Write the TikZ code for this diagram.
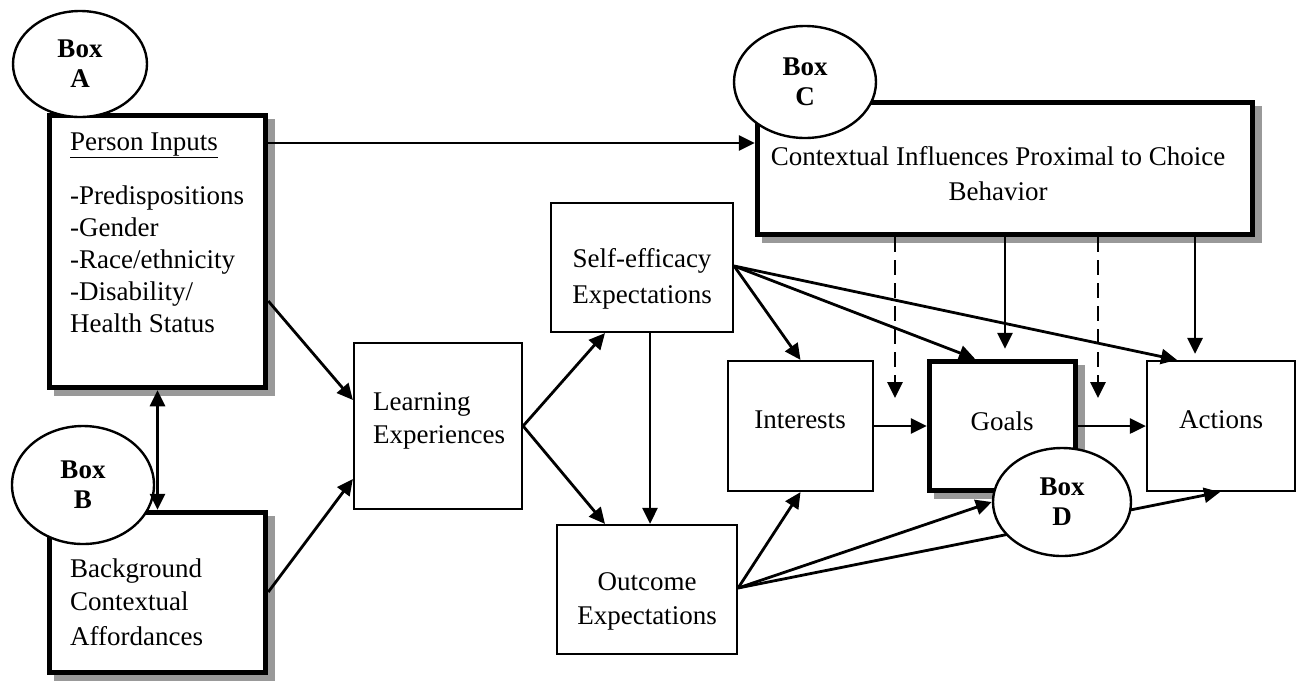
\documentclass[tikz,border=0pt]{standalone}
\usepackage{fontspec}
\setmainfont{Liberation Serif}
\usetikzlibrary{arrows.meta,shadows,shapes.geometric}
\definecolor{shadowgray}{gray}{0.6}
\begin{document}
\begin{tikzpicture}[x=1pt,y=-1pt,
  >={Triangle[length=16pt,width=15pt]},
  thinbox/.style={draw, line width=2.2pt, fill=white, inner sep=0pt},
  thickbox/.style={draw, line width=5.5pt, fill=white, inner sep=0pt,
    general shadow={fill=shadowgray, draw=shadowgray, shadow xshift=7pt, shadow yshift=-6pt}},
  tag/.style={ellipse, draw, line width=2.4pt, fill=white, inner sep=0pt, align=center,
    font=\fontsize{27}{30}\selectfont\bfseries},
  lbl/.style={inner sep=0pt, font=\fontsize{27}{32}\selectfont},
  lleft/.style={lbl, anchor=base west},
  lmid/.style={lbl, anchor=base},
  arr/.style={line width=2.8pt, ->},
  darr/.style={arr, dash pattern=on 15pt off 8pt},
]
\useasboundingbox (0,0) rectangle (1303,681);

% boxes
\node[thickbox, minimum width=216pt, minimum height=272pt] (pin) at (157.5,251.5) {};
\node[thickbox, minimum width=216pt, minimum height=160pt] (bg) at (157.5,592.5) {};
\node[thickbox, minimum width=495pt, minimum height=132pt] (ctx) at (1005,168.5) {};
\node[thickbox, minimum width=146pt, minimum height=129pt] (goals) at (1002.5,426) {};
\node[thinbox, minimum width=168pt, minimum height=166pt] (le) at (438,426) {};
\node[thinbox, minimum width=182pt, minimum height=129pt] (se) at (642,267.5) {};
\node[thinbox, minimum width=180pt, minimum height=129pt] (oe) at (647,589.5) {};
\node[thinbox, minimum width=145pt, minimum height=130pt] (int) at (800.5,426) {};
\node[thinbox, minimum width=148pt, minimum height=130pt] (act) at (1221,426) {};

% texts
\node[lleft] (pinh) at (70,150) {\underline{Person Inputs}};
\node[lleft] (pin1) at (70,204) {-Predispositions};
\node[lleft] (pin2) at (70,236) {-Gender};
\node[lleft] (pin3) at (70,268) {-Race/ethnicity};
\node[lleft] (pin4) at (70,300) {-Disability/};
\node[lleft] (pin5) at (70,332) {Health Status};
\node[lleft] (bg1) at (70,577) {Background};
\node[lleft] (bg2) at (70,610) {Contextual};
\node[lleft] (bg3) at (70,645) {Affordances};
\node[lleft] (le1) at (373,410) {Learning};
\node[lleft] (le2) at (373,443) {Experiences};
\node[lmid] (se1) at (642,267) {Self-efficacy};
\node[lmid] (se2) at (642,303) {Expectations};
\node[lmid] (oe1) at (647,590) {Outcome};
\node[lmid] (oe2) at (647,624) {Expectations};
\node[lmid] (int1) at (800,428) {Interests};
\node[lmid] (goals1) at (1002,430) {Goals};
\node[lmid] (act1) at (1221,428) {Actions};
\node[lmid] (ctx1) at (998,165) {Contextual Influences Proximal to Choice};
\node[lmid] (ctx2) at (998,200) {Behavior};

% ellipses
\node[tag, minimum width=134pt, minimum height=106pt] (boxA) at (80,64) {Box\\A};
\node[tag, minimum width=142pt, minimum height=118pt] (boxB) at (83,485) {Box\\B};
\node[tag, minimum width=142pt, minimum height=112pt] (boxC) at (805,82) {Box\\C};

% connectors
\draw[arr] (pin.east |- 0,143) -- (ctx.west |- 0,143);
\draw[arr, <->] (pin.south) -- (bg.north);
\draw[arr] (pin.east |- 0,301) -- (le.west |- 0,400);
\draw[arr] (bg.east |- 0,592) -- (le.west |- 0,479);
\draw[arr] (le.east) -- (se.south -| 605,0);
\draw[arr] (le.east) -- (oe.north -| 605,0);
\draw[arr] (se.south -| 650,0) -- (oe.north -| 650,0);
\coordinate (sep) at (se.east |- 0,266);
\draw[arr] (sep) -- (int.north);
\draw[arr] (sep) -- (goals.north -| 975,0);
\draw[arr] (sep) -- (act.north -| 1177,0);
\coordinate (oep) at (oe.east |- 0,588);
\draw[arr] (oep) -- (int.south);
\draw[arr] (oep) -- (act.south -| 1220,0);
\draw[arr] (int.east) -- (goals.west);
\draw[arr] (goals.east) -- (act.west);
\coordinate (d1) at (895,398);
\coordinate (d2) at (1098,398);
\draw[darr] (ctx.south -| d1) -- (d1);
\draw[darr] (ctx.south -| d2) -- (d2);
\draw[arr, shorten >=10pt] (ctx.south -| 1005,0) -- (goals.north -| 1005,0);
\draw[arr, shorten >=6pt] (ctx.south -| 1195,0) -- (act.north -| 1195,0);

\node[tag, minimum width=138pt, minimum height=108pt] (boxD) at (1062,502) {Box\\D};
\draw[arr] (oep) -- (boxD.west);
\end{tikzpicture}
\end{document}
